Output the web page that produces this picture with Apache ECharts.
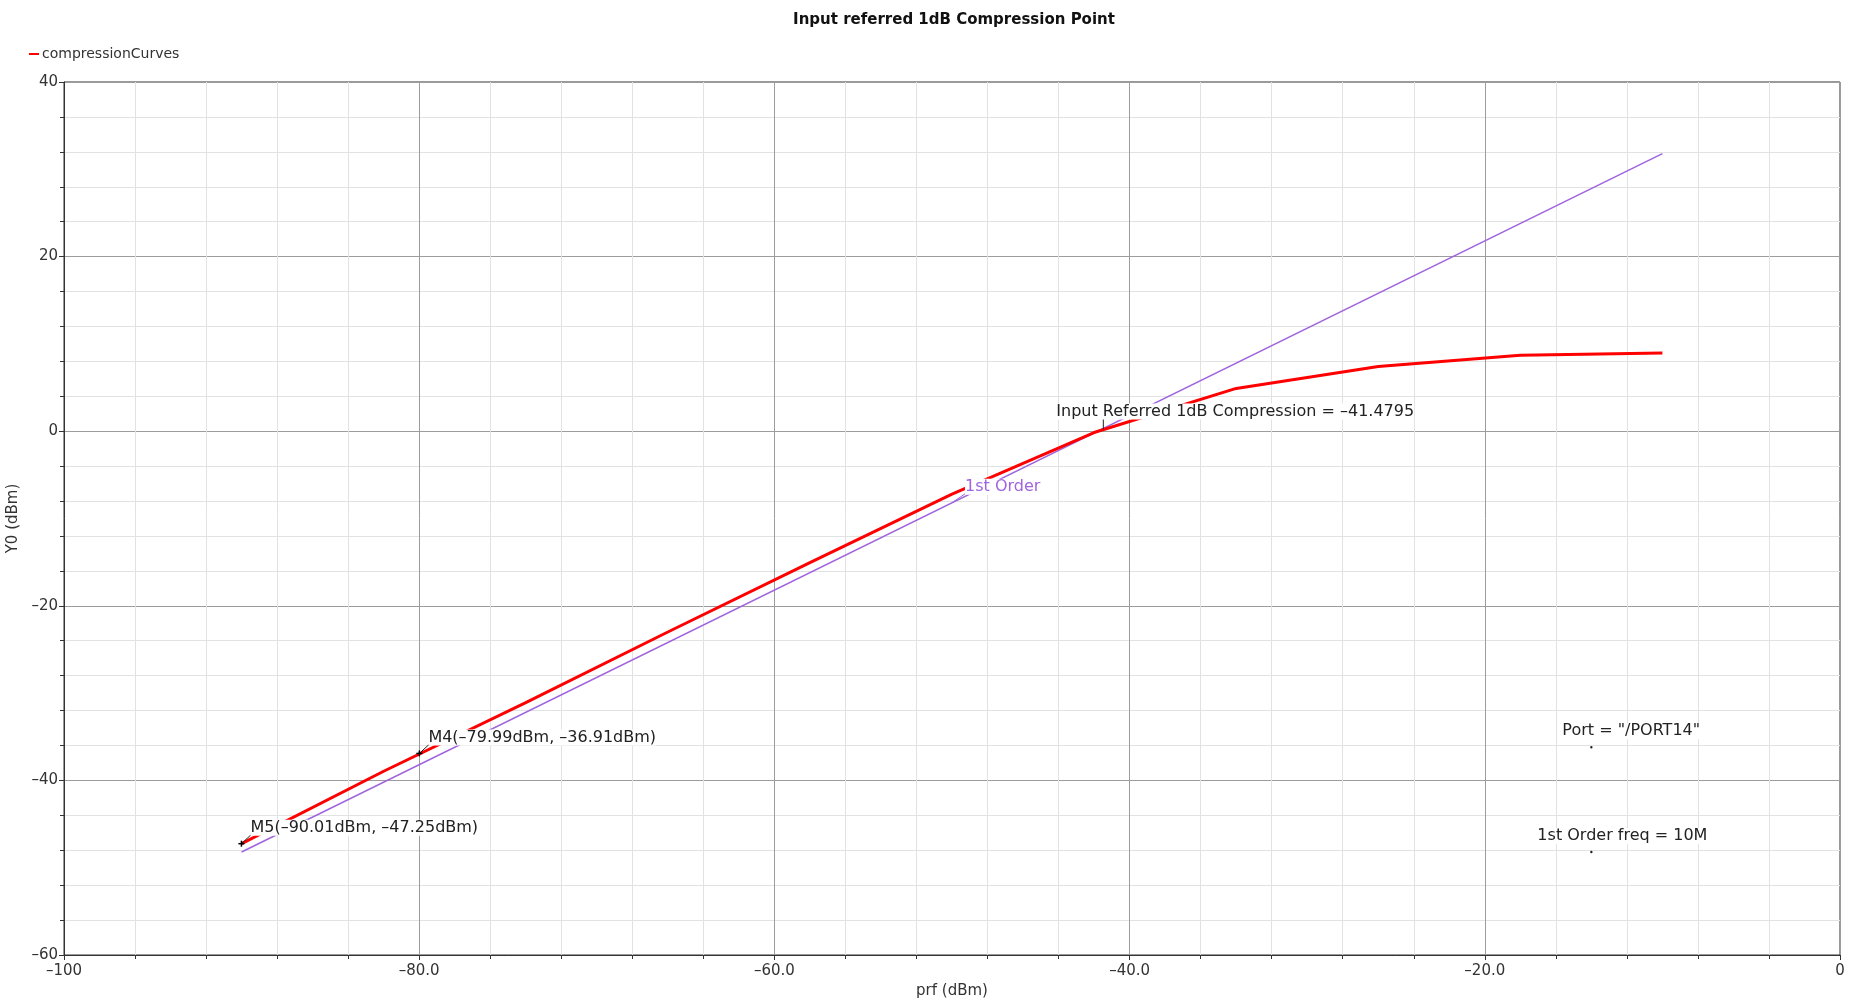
<!DOCTYPE html>
<html>
<head>
<meta charset="utf-8">
<script src="https://cdn.jsdelivr.net/npm/echarts@6/dist/echarts.min.js"></script>
<style>
html,body{margin:0;padding:0;background:#fff;}
#chart{width:1860px;height:1003px;}
</style>
</head>
<body>
<div id="chart"></div>
<script>
// ---- data ----
const sweepX = [-90, -82, -74, -66, -58, -50, -42, -34, -26, -18, -10];
const compressionCurves = [-47.25, -38.95, -31.1, -23.0, -15.05, -7.2, -0.15, 4.9, 7.4, 8.7, 8.95];
const firstOrderX = [-90, -10];
const firstOrderY = [-48.2, 31.8];

const xTickValues = [-100, -80, -60, -40, -20, 0];
const xTickLabels = ['–100', '–80.0', '–60.0', '–40.0', '–20.0', '0'];
const yTickValues = [-60, -40, -20, 0, 20, 40];
const yTickLabels = ['–60', '–40', '–20', '0', '20', '40'];

const markerNames = ['M4', 'M5'];
const markerX = [-79.99, -90.01];
const markerY = [-36.91, -47.25];
const markerTexts = ['M4(–79.99dBm, –36.91dBm)', 'M5(–90.01dBm, –47.25dBm)'];

const compressionPointX = -41.4795;
const compressionPointY = 0.2;
const compressionText = 'Input Referred 1dB Compression = –41.4795';

const firstOrderLabelX = -50;
const firstOrderLabelY = -8.2;
const firstOrderText = '1st Order';

const infoX = [-14, -14];
const infoY = [-36.2, -48.2];
const infoTexts = ['Port = "/PORT14"', '1st Order freq = 10M'];

// ---- chart ----
const FONT = 'DejaVu Sans';
const RED = '#ff0000';
const PURPLE = '#a064de';

const chart = echarts.init(document.getElementById('chart'), null, {renderer: 'canvas'});

function tickFmt(values, labels) {
  return function (v) {
    const i = values.findIndex(t => Math.abs(t - v) < 1e-9);
    return i >= 0 ? labels[i] : '';
  };
}

const option = {
  animation: false,
  backgroundColor: '#ffffff',
  title: {
    text: 'Input referred 1dB Compression Point',
    left: 949,
    textAlign: 'center',
    top: 8,
    textStyle: {fontFamily: FONT, fontSize: 15, fontWeight: 'bold', color: '#111'}
  },
  legend: {
    data: ['compressionCurves'],
    left: 24,
    top: 42,
    icon: 'rect',
    itemWidth: 10,
    itemHeight: 2,
    itemGap: 10,
    textStyle: {fontFamily: FONT, fontSize: 14, color: '#333', padding: [0, 0, 0, -2]}
  },
  grid: {
    left: 64, right: 20, top: 82, bottom: 48,
    containLabel: false,
    outerBoundsMode: 'none',
    show: true, borderColor: '#333', borderWidth: 1, backgroundColor: '#fff'
  },
  xAxis: {
    type: 'value',
    min: -100, max: 0, interval: 20,
    name: 'prf (dBm)',
    nameLocation: 'middle',
    nameGap: 27,
    nameTextStyle: {fontFamily: FONT, fontSize: 15, color: '#333'},
    axisLine: {show: true, onZero: false, lineStyle: {color: '#333', width: 1}},
    axisTick: {show: true, length: 5, lineStyle: {color: '#333'}},
    minorTick: {show: true, splitNumber: 5, length: 4, lineStyle: {color: '#333'}},
    axisLabel: {fontFamily: FONT, fontSize: 15, color: '#333', margin: 9,
                formatter: tickFmt(xTickValues, xTickLabels)},
    splitLine: {show: true, lineStyle: {color: '#9c9c9c', width: 1}},
    minorSplitLine: {show: true, lineStyle: {color: '#e2e2e2', width: 1}}
  },
  yAxis: {
    type: 'value',
    min: -60, max: 40, interval: 20,
    name: 'Y0 (dBm)',
    nameLocation: 'middle',
    nameGap: 37,
    nameTextStyle: {fontFamily: FONT, fontSize: 15, color: '#333'},
    axisLine: {show: true, onZero: false, lineStyle: {color: '#333', width: 1}},
    axisTick: {show: true, length: 5, lineStyle: {color: '#333'}},
    minorTick: {show: true, splitNumber: 5, length: 4, lineStyle: {color: '#333'}},
    axisLabel: {fontFamily: FONT, fontSize: 15, color: '#333', margin: 6,
                formatter: tickFmt(yTickValues, yTickLabels)},
    splitLine: {show: true, lineStyle: {color: '#9c9c9c', width: 1}},
    minorSplitLine: {show: true, lineStyle: {color: '#e2e2e2', width: 1}}
  },
  series: [
    {
      name: '1st Order',
      type: 'line',
      z: 2,
      showSymbol: false,
      silent: true,
      lineStyle: {color: PURPLE, width: 1.5},
      itemStyle: {color: PURPLE},
      data: firstOrderX.map((x, i) => [x, firstOrderY[i]])
    },
    {
      name: 'compressionCurves',
      type: 'line',
      z: 3,
      showSymbol: false,
      silent: true,
      lineStyle: {color: RED, width: 3},
      itemStyle: {color: RED},
      data: sweepX.map((x, i) => [x, compressionCurves[i]])
    }
  ]
};

chart.setOption(option);

// ---- annotations anchored through the axes ----
function px(x, y) { return chart.convertToPixel({gridIndex: 0}, [x, y]); }

const textStyleBase = {fontFamily: FONT, fontSize: 16, fill: '#222', backgroundColor: '#fff',
                       verticalAlign: 'middle', align: 'left'};
const g = [];

function addLine(x1, y1, x2, y2, color, w) {
  g.push({type: 'line', z: 100, silent: true,
          shape: {x1: x1, y1: y1, x2: x2, y2: y2},
          style: {stroke: color, lineWidth: w || 1}});
}
function addText(x, y, text, color, extra) {
  g.push({type: 'text', z: 101, silent: true, x: x, y: y,
          style: Object.assign({}, textStyleBase, {text: text, fill: color || '#222'}, extra || {})});
}

// markers M4, M5
markerX.forEach((mx, i) => {
  const p = px(mx, markerY[i]);
  addText(p[0] + 9, p[1] - 16, markerTexts[i]);
  addLine(p[0], p[1], p[0] + 14, p[1] - 13, '#222', 1);
  addLine(p[0] - 3, p[1], p[0] + 3, p[1], '#000', 1.5);
  addLine(p[0], p[1] - 3, p[0], p[1] + 3, '#000', 1.5);
});

// compression point
(function () {
  const p = px(compressionPointX, compressionPointY);
  addText(p[0] - 47, p[1] - 18, compressionText);
  addLine(p[0], p[1], p[0], p[1] - 12, '#222', 1);
})();

// 1st Order label
(function () {
  const p = px(firstOrderLabelX, firstOrderLabelY);
  addText(p[0] + 13, p[1] - 16, firstOrderText, PURPLE);
  addLine(p[0], p[1], p[0] + 13, p[1] - 9, PURPLE, 1);
})();

// info texts with dots
infoX.forEach((ix, i) => {
  const p = px(ix, infoY[i]);
  addText(p[0] + (i === 0 ? -29 : -54), p[1] - 16, infoTexts[i]);
  g.push({type: 'circle', z: 101, silent: true, shape: {cx: p[0], cy: p[1], r: 1.2},
          style: {fill: '#222'}});
});

chart.setOption({graphic: g});
</script>
</body>
</html>
